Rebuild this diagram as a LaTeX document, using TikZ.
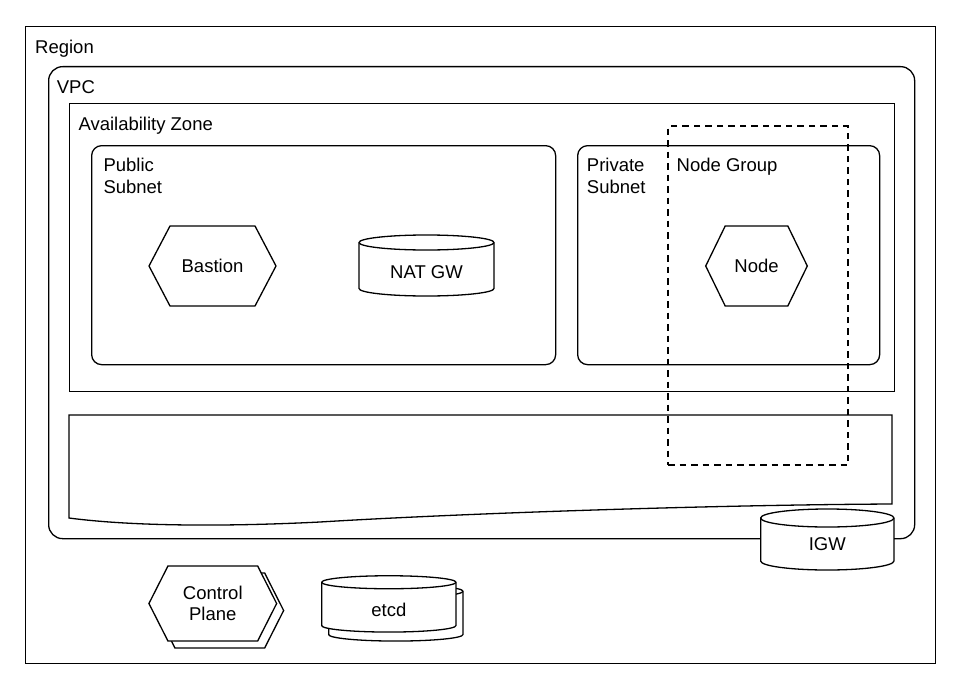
\documentclass[tikz,border=0pt]{standalone}
\usepackage{fontspec}
\setmainfont{Liberation Sans}
\usetikzlibrary{calc}
\tikzset{
  txtfont/.style={font=\fontsize{18.5}{21.6}\selectfont},
  lbl/.style={txtfont, anchor=base west, inner sep=0pt, align=left},
  ctr/.style={txtfont, inner sep=0pt, align=center},
  line/.style={draw=black, line width=1.3pt},
  frame/.style={line, anchor=north west, inner sep=0pt},
  roundframe/.style={frame, rounded corners=#1},
  dashframe/.style={draw=black, line width=2pt, dash pattern=on 6.5pt off 5pt, anchor=north west, inner sep=0pt},
  geom/.style={inner sep=0pt, outer sep=0pt},
}
% hexagon from a node's anchors: #1 extra options, #2 node, #3 indent
\newcommand{\hexa}[3][]{%
  \draw[line,#1] (#2.west) -- ([xshift=#3]#2.north west) -- ([xshift=-#3]#2.north east)
    -- (#2.east) -- ([xshift=-#3]#2.south east) -- ([xshift=#3]#2.south west) -- cycle;}
% cylinder from a node's anchors: #1 node, #2 half width, #3 ellipse y radius
\newcommand{\cyl}[3]{%
  \draw[line, fill=white] ([yshift=-#3]#1.north west) -- ([yshift=#3]#1.south west)
    arc[start angle=180, end angle=360, x radius=#2, y radius=#3]
    -- ([yshift=-#3]#1.north east)
    arc[start angle=0, end angle=180, x radius=#2, y radius=#3] -- cycle;
  \draw[line] ([yshift=-#3]#1.north west)
    arc[start angle=180, end angle=360, x radius=#2, y radius=#3];}
\begin{document}
\begin{tikzpicture}[x=1pt, y=-1pt]
\useasboundingbox (0,0) rectangle (957,690);
\fill[white] (0,0) rectangle (957,690);

% containers
\node[frame, minimum width=910pt, minimum height=637pt] (region) at (25,26) {};
\node[lbl] (regionlbl) at (35,53.3) {Region};

\node[roundframe=14pt, minimum width=866pt, minimum height=472pt] (vpc) at (48,66) {};
\node[lbl] (vpclbl) at (56.7,94) {VPC};

\node[frame, minimum width=825pt, minimum height=288pt] (az) at (69,103) {};
\node[lbl] (azlbl) at (78.3,130) {Availability Zone};

\node[roundframe=10pt, minimum width=464pt, minimum height=219pt] (pub) at (91,145) {};
\node[lbl] (publbl) at (103.3,193.3) {Public\\Subnet};

\node[roundframe=10pt, minimum width=302pt, minimum height=219pt] (priv) at (577,145) {};
\node[lbl] (privlbl) at (586.7,193.3) {Private\\Subnet};

% bottom band (document shape)
\draw[line] (69,415) -- (892,415) -- (892,504)
  .. controls (700,505) and (450,514) .. (320,522)
  .. controls (220,527) and (130,526) .. (69,518) -- cycle;

% node group
\node[dashframe, minimum width=180pt, minimum height=339pt] (ng) at (667,125) {};
\node[lbl] (nglbl) at (676.5,171.7) {Node Group};

% hexagons
\node[geom, ctr, minimum width=127pt, minimum height=80pt] (bastion) at (212.5,266) {Bastion};
\hexa{bastion}{21pt}
\node[geom, ctr, minimum width=101.6pt, minimum height=80pt] (node) at (756.5,266) {Node};
\hexa{node}{19.5pt}

% NAT GW
\node[geom, minimum width=135pt, minimum height=61pt] (natgw) at (426.5,265.5) {};
\cyl{natgw}{67.5pt}{7.5pt}
\node[ctr] (natgwtxt) at ($(natgw.center)+(0,7)$) {NAT GW};

% IGW
\node[geom, minimum width=133.3pt, minimum height=61pt] (igw) at (827.3,539.5) {};
\cyl{igw}{66.65pt}{9pt}
\node[ctr] (igwtxt) at ($(igw.center)+(0,5)$) {IGW};

% control plane (stacked)
\node[geom, minimum width=127.7pt, minimum height=75pt] (cp) at (212.8,603.5) {};
\node[geom, minimum width=127.7pt, minimum height=75pt] (cpback) at ($(cp.center)+(7,7)$) {};
\hexa[fill=white]{cpback}{19pt}
\hexa[fill=white]{cp}{19pt}
\node[ctr] (cptxt) at (cp.center) {Control\\Plane};

% etcd (stacked)
\node[geom, minimum width=134.3pt, minimum height=56.3pt] (etcd) at (388.8,603.9) {};
\node[geom, minimum width=134.3pt, minimum height=56.3pt] (etcdback) at ($(etcd.center)+(7,9)$) {};
\cyl{etcdback}{67.15pt}{6.5pt}
\cyl{etcd}{67.15pt}{6.5pt}
\node[ctr] (etcdtxt) at ($(etcd.center)+(0,6)$) {etcd};
\end{tikzpicture}
\end{document}
